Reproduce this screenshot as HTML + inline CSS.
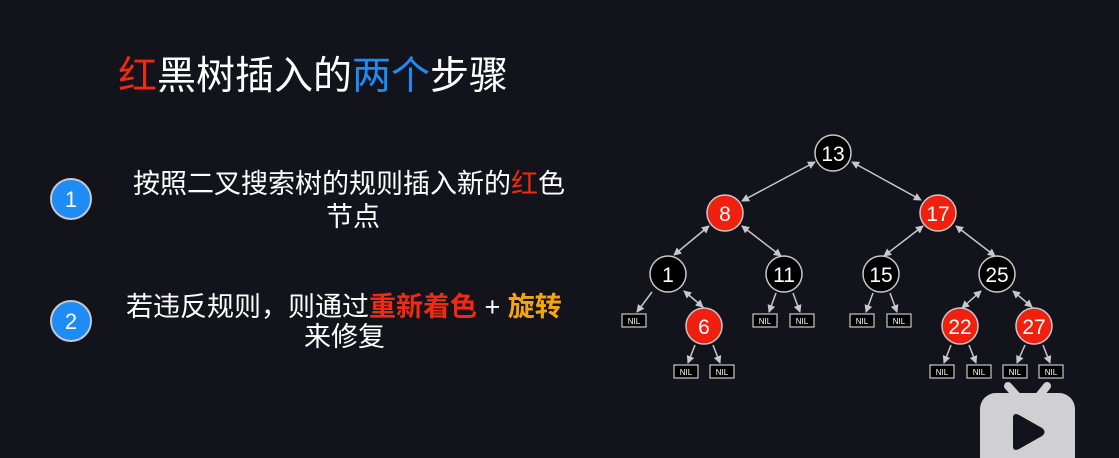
<!DOCTYPE html>
<html><head><meta charset="utf-8"><style>
html,body{margin:0;padding:0;background:#12131b;}
body{width:1119px;height:458px;overflow:hidden;position:relative;font-family:"Liberation Sans","Noto Sans CJK SC",sans-serif;color:#fff;}
.t{position:absolute;white-space:nowrap;}
</style></head><body>
<div class="t" style="left:118px;top:55px;font-size:39px;line-height:44px;">
<span style="color:#f22a12">红</span>黑树插入的<span style="color:#1e8cf5">两个</span>步骤</div>
<div class="t" style="left:133px;top:168px;font-size:27px;line-height:32px;">按照二叉搜索树的规则插入新的<span style="color:#f22a12">红</span>色</div>
<div class="t" style="left:326px;top:201px;font-size:27px;line-height:32px;">节点</div>
<div class="t" style="left:126px;top:291px;font-size:27px;line-height:32px;">若违反规则，则通过<span style="color:#f22a12;font-weight:bold">重新着色</span> + <span style="color:#f5a60f;font-weight:bold">旋转</span></div>
<div class="t" style="left:304px;top:321px;font-size:27px;line-height:32px;">来修复</div>
<svg width="1119" height="458" style="position:absolute;left:0;top:0" font-family="Liberation Sans, sans-serif">
<defs><marker id="a" markerWidth="8" markerHeight="8" refX="7" refY="4" orient="auto-start-reverse" markerUnits="userSpaceOnUse"><path d="M0,0 L8,4 L0,8 z" fill="#c8c8cc"/></marker></defs>
<circle cx="71" cy="199" r="20" fill="#1e8cf5" stroke="#c8c8cc" stroke-width="2"/>
<text x="71" y="207" font-size="22" fill="#fff" text-anchor="middle">1</text>
<circle cx="71" cy="321" r="20" fill="#1e8cf5" stroke="#c8c8cc" stroke-width="2"/>
<text x="71" y="329" font-size="22" fill="#fff" text-anchor="middle">2</text>
<g stroke="#c8c8cc" stroke-width="1.5">
<line x1="815" y1="162" x2="742" y2="201" marker-start="url(#a)" marker-end="url(#a)"/>
<line x1="852" y1="162" x2="921" y2="200" marker-start="url(#a)" marker-end="url(#a)"/>
<line x1="709" y1="226" x2="674" y2="255" marker-start="url(#a)" marker-end="url(#a)"/>
<line x1="742" y1="226" x2="781" y2="256" marker-start="url(#a)" marker-end="url(#a)"/>
<line x1="923" y1="226" x2="884" y2="256" marker-start="url(#a)" marker-end="url(#a)"/>
<line x1="956" y1="226" x2="995" y2="256" marker-start="url(#a)" marker-end="url(#a)"/>
<line x1="684" y1="291" x2="703" y2="307" marker-start="url(#a)" marker-end="url(#a)"/>
<line x1="981" y1="291" x2="962" y2="308" marker-start="url(#a)" marker-end="url(#a)"/>
<line x1="1013" y1="291" x2="1032" y2="307" marker-start="url(#a)" marker-end="url(#a)"/>
<line x1="652" y1="292" x2="637" y2="312" marker-end="url(#a)"/>
<line x1="776" y1="293" x2="769" y2="312" marker-end="url(#a)"/>
<line x1="793" y1="293" x2="800" y2="312" marker-end="url(#a)"/>
<line x1="873" y1="293" x2="866" y2="312" marker-end="url(#a)"/>
<line x1="890" y1="293" x2="897" y2="312" marker-end="url(#a)"/>
<line x1="695" y1="345" x2="688" y2="363" marker-end="url(#a)"/>
<line x1="713" y1="345" x2="720" y2="363" marker-end="url(#a)"/>
<line x1="951" y1="345" x2="944" y2="363" marker-end="url(#a)"/>
<line x1="969" y1="345" x2="976" y2="363" marker-end="url(#a)"/>
<line x1="1025" y1="345" x2="1017" y2="363" marker-end="url(#a)"/>
<line x1="1043" y1="345" x2="1050" y2="363" marker-end="url(#a)"/>
</g>
<g stroke="#c8c8cc" stroke-width="1.5">
<circle cx="833" cy="153" r="18" fill="#000"/>
<circle cx="725" cy="213" r="18" fill="#f0200e"/>
<circle cx="938" cy="213" r="18" fill="#f0200e"/>
<circle cx="668" cy="274" r="18" fill="#000"/>
<circle cx="784" cy="274" r="18" fill="#000"/>
<circle cx="881" cy="274" r="18" fill="#000"/>
<circle cx="997" cy="274" r="18" fill="#000"/>
<circle cx="704" cy="326" r="18" fill="#f0200e"/>
<circle cx="960" cy="326" r="18" fill="#f0200e"/>
<circle cx="1034" cy="326" r="18" fill="#f0200e"/>
</g>
<g fill="#fff" font-size="21" text-anchor="middle">
<text x="833" y="161">13</text><text x="725" y="221">8</text><text x="938" y="221">17</text>
<text x="668" y="282">1</text><text x="784" y="282">11</text><text x="881" y="282">15</text><text x="997" y="282">25</text>
<text x="704" y="334">6</text><text x="960" y="334">22</text><text x="1034" y="334">27</text>
</g>
<g stroke="#c8c8cc" stroke-width="1.2" fill="#000">
<rect x="622" y="314" width="24" height="13"/>
<rect x="753" y="314" width="24" height="13"/><rect x="790" y="314" width="24" height="13"/>
<rect x="850" y="314" width="24" height="13"/><rect x="887" y="314" width="24" height="13"/>
<rect x="674" y="365" width="24" height="13"/><rect x="710" y="365" width="24" height="13"/>
<rect x="930" y="365" width="24" height="13"/><rect x="967" y="365" width="24" height="13"/>
<rect x="1003" y="365" width="24" height="13"/><rect x="1039" y="365" width="24" height="13"/>
</g>
<g fill="#fff" font-size="8" text-anchor="middle">
<text x="634" y="324">NIL</text><text x="765" y="324">NIL</text><text x="802" y="324">NIL</text>
<text x="862" y="324">NIL</text><text x="899" y="324">NIL</text>
<text x="686" y="375">NIL</text><text x="722" y="375">NIL</text>
<text x="942" y="375">NIL</text><text x="979" y="375">NIL</text>
<text x="1015" y="375">NIL</text><text x="1051" y="375">NIL</text>
</g>
<g fill="#d0d0d3">
<line x1="1008" y1="386" x2="1017" y2="396" stroke="#d0d0d3" stroke-width="8" stroke-linecap="round"/>
<line x1="1047" y1="386" x2="1039" y2="396" stroke="#d0d0d3" stroke-width="8" stroke-linecap="round"/>
<rect x="980" y="393" width="95" height="80" rx="16"/>
</g>
<path d="M1013,418 Q1013,412 1019,415 L1042,428 Q1047,432 1042,436 L1019,449 Q1013,452 1013,446 z" fill="#12131b"/>
</svg>
</body></html>
